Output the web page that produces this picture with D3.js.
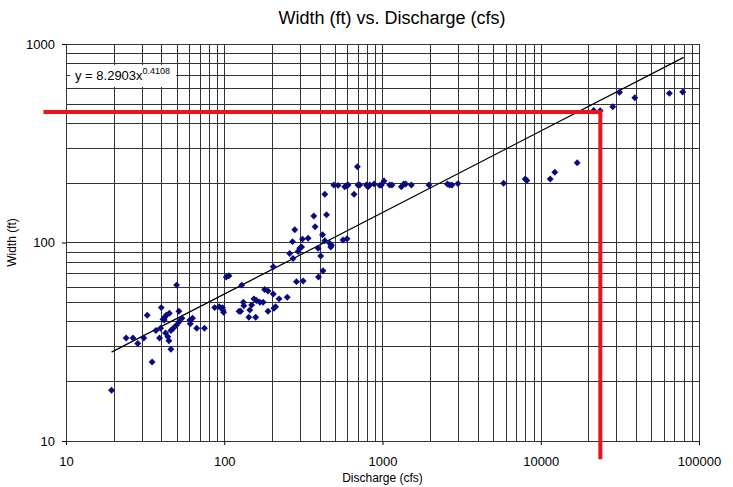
<html>

<head>
  <title>Width vs. Discharge</title>
  <script src="https://d3js.org/d3.v7.min.js"></script>
  <style>
    body { margin: 0; background: #fff; }
    text { font-family: "Liberation Sans", Arial, sans-serif; fill: #000; }
  </style>
</head>

<body>
  <div id="chart"></div>

  <script type="text/javascript">

    // Discharge (cfs) and width (ft)
    var discharge = [19.4, 35, 24, 26.5, 28.4, 31, 32.6, 37, 39, 39.6, 40, 41, 42, 43, 45, 41.8, 42.6, 44, 44.7, 46,
      46, 47.6, 50, 50, 51.7, 52, 54, 60.7, 61, 63, 67, 75, 87, 93, 97.5, 98, 99, 103, 107, 124,
      129, 132, 133, 127, 143, 158, 145, 149, 154, 160, 168, 176, 180, 189, 189, 204, 206, 211, 204, 222,
      250, 259, 270, 279, 272, 286, 293, 300, 308, 312, 315, 339, 368, 375, 392, 407, 394, 421, 418, 432,
      443, 464, 471, 476, 563, 597, 432, 661, 694,
      492, 524, 577, 592, 606, 700, 718, 791, 810, 830, 884, 960, 984, 1022, 1110, 1148, 1316, 1361, 1401, 1522,
      1967, 2569, 2656, 2747, 2997,
      5820, 7980, 8170, 11480, 12270, 16990, 21600, 23750, 28500, 31450, 39300, 65000, 78900];
    var width_ft = [18, 25, 33, 33, 31, 33, 43, 36, 33, 37, 47, 41, 42, 43, 44, 40.7, 35, 33.5, 32, 29,
      36, 37, 61, 38.4, 45, 40, 41.5, 40.7, 39, 41.5, 37, 37, 47, 47.5, 47, 45.7, 44.5, 67, 68, 45,
      61, 50, 48, 45, 42, 42, 45.7, 48.4, 52, 51, 50, 50, 58, 57, 45, 55, 46.6, 47.5, 75.5, 52,
      53, 88, 101, 116, 83, 63.5, 90, 93.5, 95, 104, 64, 105, 136, 120, 93.5, 85.5, 67, 72, 109.5, 102,
      138, 99, 95, 97, 103, 104.5, 175, 175, 241,
      195, 194, 191, 193, 195, 195, 195, 195, 191, 195, 197, 194, 195, 204, 195, 195, 191, 197, 197, 195,
      195, 197, 195, 195, 198,
      199, 209, 205, 209, 226, 252, 463, 461, 483, 571, 536, 564, 573];

    // power trendline y = a x^b
    var trendA = 8.2903;
    var trendB = 0.4108;
    var trendRange = [19.4, 80000];

    // red reference lines (horizontal then vertical)
    var refQ = [7.2, 23800, 23800];
    var refW = [455, 455, 8.1];

    var xMajor = [10, 100, 1000, 10000, 100000];
    var yMajor = [10, 100, 1000];

    var margin = {top: 44, right: 34, bottom: 46, left: 66};
    var W = 733, H = 487;
    var width = W - margin.left - margin.right;
    var height = H - margin.top - margin.bottom;

    var x = d3.scaleLog().domain([10, 100000]).range([0, width]);
    var y = d3.scaleLog().domain([10, 1000]).range([height, 0]);

    function minorTicks(lo, hi) {
      var out = [];
      for (var d = lo; d < hi; d *= 10) {
        for (var k = 1; k <= 10; k++) out.push(d * k);
      }
      return out;
    }

    var svg = d3.select('#chart')
                .append('svg')
                  .attr('width', W)
                  .attr('height', H);

    svg.append('text')
       .text('Width (ft) vs. Discharge (cfs)')
       .attr('x', 392)
       .attr('y', 24)
       .attr('text-anchor', 'middle')
       .style('font-size', '18px');

    var g = svg.append('g')
               .attr('transform', 'translate(' + margin.left + ',' + margin.top + ')');

    // gridlines
    g.append('g').selectAll('line')
      .data(minorTicks(10, 100000))
      .enter().append('line')
        .attr('x1', function(d) { return Math.round(x(d)) + 0.5; })
        .attr('x2', function(d) { return Math.round(x(d)) + 0.5; })
        .attr('y1', 0)
        .attr('y2', height)
        .attr('stroke', '#333')
        .attr('stroke-width', 1);

    g.append('g').selectAll('line')
      .data(minorTicks(10, 1000))
      .enter().append('line')
        .attr('y1', function(d) { return Math.round(y(d)) + 0.5; })
        .attr('y2', function(d) { return Math.round(y(d)) + 0.5; })
        .attr('x1', 0)
        .attr('x2', width)
        .attr('stroke', '#333')
        .attr('stroke-width', 1);

    // axes
    var x_axis = d3.axisBottom(x).tickValues(xMajor).tickSize(4).tickPadding(12).tickFormat(d3.format('d'));
    var y_axis = d3.axisLeft(y).tickValues(yMajor).tickSize(4).tickPadding(7).tickFormat(d3.format('d'));

    g.append('g')
     .attr('transform', 'translate(0,' + height + ')')
     .call(x_axis)
     .call(function(a) { a.select('.domain').attr('stroke', '#333'); })
     .selectAll('text').style('font-size', '13px');

    g.append('g')
     .call(y_axis)
     .call(function(a) { a.select('.domain').attr('stroke', '#333'); })
     .selectAll('text').style('font-size', '13px');

    svg.append('text')
       .text('Discharge (cfs)')
       .attr('x', margin.left + width / 2)
       .attr('y', 482)
       .attr('text-anchor', 'middle')
       .style('font-size', '12px');

    svg.append('text')
       .text('Width (ft)')
       .attr('transform', 'rotate(-90)')
       .attr('x', -(margin.top + height / 2))
       .attr('y', 16)
       .attr('text-anchor', 'middle')
       .style('font-size', '12px');

    // equation label
    g.append('rect')
     .attr('x', 4)
     .attr('y', 21)
     .attr('width', 106)
     .attr('height', 22)
     .attr('fill', '#fff');

    var eq = g.append('text')
              .attr('x', 9)
              .attr('y', 36)
              .style('font-size', '13px');
    eq.append('tspan').text('y = ' + trendA + 'x');
    eq.append('tspan').text(trendB).attr('dy', -6).style('font-size', '9px');

    // trendline
    var line = d3.line()
                 .x(function(d) { return x(d); })
                 .y(function(d) { return y(trendA * Math.pow(d, trendB)); });

    g.append('path')
     .datum(trendRange)
     .attr('d', line)
     .attr('fill', 'none')
     .attr('stroke', '#000')
     .attr('stroke-width', 1.2);

    // points
    var points = discharge.map(function(q, i) { return {q: q, w: width_ft[i]}; });
    var diamond = d3.symbol().type(d3.symbolSquare).size(24);

    g.append('g').selectAll('path')
      .data(points)
      .enter().append('path')
        .attr('d', diamond)
        .attr('transform', function(d) { return 'translate(' + x(d.q) + ',' + y(d.w) + ') rotate(45)'; })
        .attr('fill', '#0a0a80');

    // red reference lines
    var ref = refQ.map(function(q, i) { return [x(q), y(refW[i])]; });
    g.append('path')
     .attr('d', d3.line()(ref))
     .attr('fill', 'none')
     .attr('stroke', '#e8141c')
     .attr('stroke-width', 4);

  </script>
</body>

</html>
